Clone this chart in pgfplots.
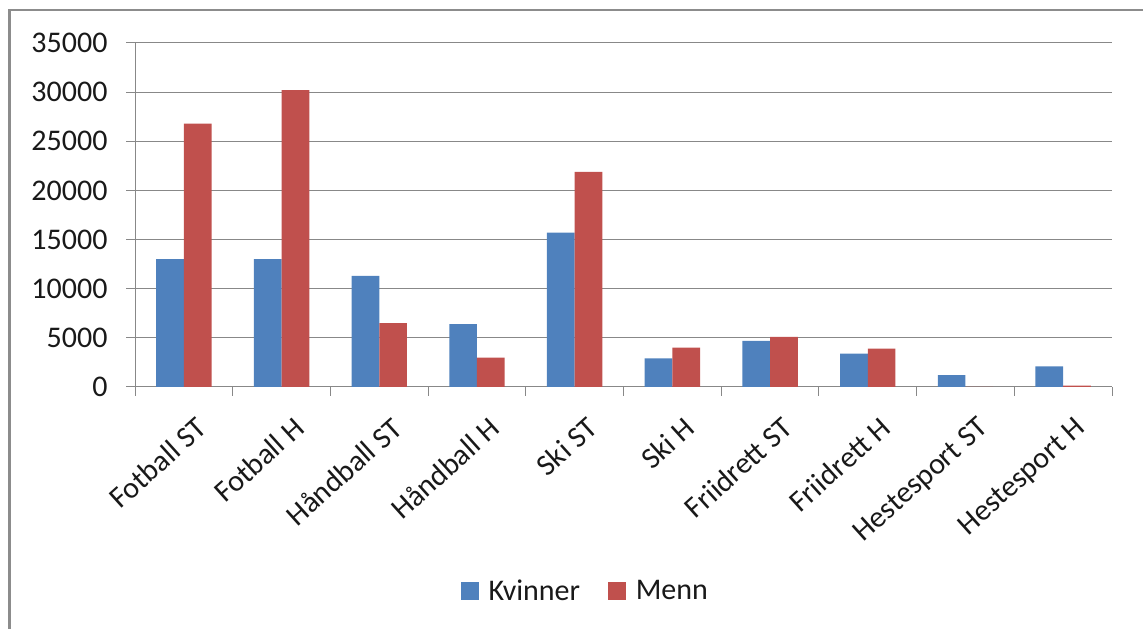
\documentclass[border=0pt]{standalone}
\usepackage{pgfplots}
\pgfplotsset{compat=1.18}
\usepackage{fontspec}
\setmainfont{Carlito}
\definecolor{kv}{HTML}{4F81BD}
\definecolor{me}{HTML}{C0504D}
\definecolor{gridc}{HTML}{888888}
\definecolor{framec}{HTML}{8C8C8C}
\begin{document}
\begin{tikzpicture}[x=1pt,y=1pt]
\path[use as bounding box] (0,0) rectangle (1143,629);
\draw[color=framec, line width=2.5pt] (9.5,0) -- (9.5,619) -- (1143,619);
\begin{axis}[
  at={(135pt,242pt)}, anchor=south west, scale only axis,
  width=977pt, height=344pt,
  xmin=-0.5, xmax=9.5, ymin=0, ymax=35000,
  ybar=0pt, bar width=27.7pt,
  axis lines=left,
  axis line style={-, draw=gridc, line width=1pt},
  xtick={0,...,9},
  xticklabels={Fotball ST, Fotball H, Håndball ST, Håndball H, Ski ST, Ski H, Friidrett ST, Friidrett H, Hestesport ST, Hestesport H},
  ytick={0,5000,...,35000},
  minor xtick={-0.5,0.5,...,9.5},
  minor ytick={0,5000,...,35000},
  major tick length=0pt, minor tick length=9pt,
  tick align=outside,
  tick style={draw=gridc, line width=1pt},
  ymajorgrids, grid style={draw=gridc, line width=1pt},
  scaled y ticks=false,
  /pgf/number format/1000 sep={},
  /pgf/number format/assume math mode=true,
  tick label style={font=\fontsize{30}{34}\selectfont, text=black!90},
  yticklabel style={anchor=east, xshift=-24pt},
  xticklabel style={rotate=42, anchor=north east, inner sep=0pt, xshift=-11pt, yshift=-28pt},
  legend style={at={(0.461,-0.593)}, anchor=center, draw=none, legend columns=2,
    font=\fontsize{30}{34}\selectfont, text=black!90,
    /tikz/every odd column/.append style={column sep=8pt},
    /tikz/every even column/.append style={column sep=26pt}},
  legend image code/.code={\fill[#1] (0pt,-8.8pt) rectangle (17.7pt,8.8pt);},
]
\addplot[fill=kv, draw=none] coordinates {(0,13000) (1,13000) (2,11300) (3,6400) (4,15700) (5,2900) (6,4700) (7,3400) (8,1200) (9,2100)};
\addplot[fill=me, draw=none] coordinates {(0,26800) (1,30200) (2,6500) (3,3000) (4,21900) (5,4000) (6,5100) (7,3900) (8,0) (9,150)};
\legend{Kvinner, Menn}
\end{axis}
\end{tikzpicture}
\end{document}
